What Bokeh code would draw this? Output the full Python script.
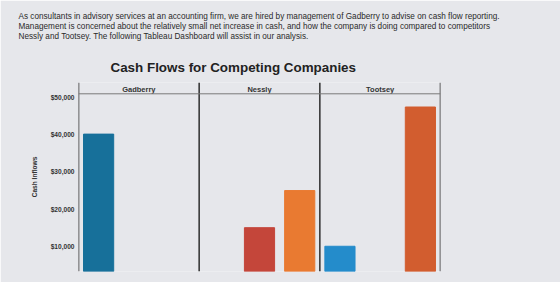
import math
from bokeh.plotting import figure
from bokeh.models import (FactorRange, Range1d, FixedTicker, NumeralTickFormatter,
                          Span, Title, ColumnDataSource)
from bokeh.core.properties import value
from bokeh.embed import file_html
from bokeh.resources import INLINE

# ---- data ----
companies = ["Gadberry", "Nessly", "Tootsey"]
slots = ["Operating", "Investing", "Financing"]
bar_company = ["Gadberry", "Nessly", "Nessly", "Tootsey", "Tootsey"]
bar_slot = ["Operating", "Investing", "Financing", "Operating", "Financing"]
bar_values = [40200, 15000, 25000, 10000, 47500]
tick_values = [10000, 20000, 30000, 40000, 50000]
intro_lines = [
    "As consultants in advisory services at an accounting firm, we are hired by management of Gadberry to advise on cash flow reporting.",
    "Management is concerned about the relatively small net increase in cash, and how the company is doing compared to competitors",
    "Nessly and Tootsey. The following Tableau Dashboard will assist in our analysis.",
]
title_text = "Cash Flows for Competing Companies"
y_title = "Cash Inflows"

# ---- styles ----
bar_colors = ["#17709a", "#c4463a", "#e97a31", "#248ccb", "#d25d2f"]
BG = "#e6e7eb"
LINE = "#3a3a3a"
FONT = "Liberation Sans"

factors = [(c, s) for c in companies for s in slots]
x_range = FactorRange(*factors, range_padding=0, factor_padding=0, group_padding=0)

p = figure(width=560, height=282, x_range=x_range, y_range=Range1d(3200, 54100),
           output_backend="svg", toolbar_location=None,
           min_border_left=78, min_border_right=120, min_border_top=82, min_border_bottom=11)
p.background_fill_color = BG
p.border_fill_color = BG
p.outline_line_color = None
p.xaxis.visible = False
p.xgrid.visible = False
p.ygrid.visible = False

p.extra_y_ranges = {"pane": Range1d(0, 189)}

src = ColumnDataSource(dict(x=list(zip(bar_company, bar_slot)), top=bar_values, color=bar_colors))
p.vbar(x="x", top="top", bottom=0, width=0.75, color="color", source=src)

ya = p.yaxis[0]
ya.ticker = FixedTicker(ticks=tick_values)
ya.formatter = NumeralTickFormatter(format="$0,0")
ya.major_tick_line_color = None
ya.minor_tick_line_color = None
ya.major_tick_out = 0
ya.major_tick_in = 0
ya.axis_line_color = None
ya.major_label_standoff = 4
ya.major_label_text_font = FONT
ya.major_label_text_font_style = "bold"
ya.major_label_text_font_size = "6.6px"
ya.major_label_text_color = "#333333"
ya.axis_label = y_title
ya.axis_label_standoff = 10
ya.axis_label_text_font = FONT
ya.axis_label_text_font_style = "bold"
ya.axis_label_text_font_size = "6.6px"
ya.axis_label_text_color = "#333333"

# panel dividers and header line
n = len(slots)
for k in range(len(companies) + 1):
    p.add_layout(Span(location=k * n, dimension="height", line_color=LINE, line_width=1.6))
p.add_layout(Span(location=177.7, dimension="width", line_color="#7a7a7a", line_width=1,
                  y_range_name="pane"))

p.text(x=companies, y=[182] * len(companies), text=companies, y_range_name="pane",
       text_align="center", text_baseline="middle", text_font=value(FONT),
       text_font_style="bold", text_font_size="7.5px", text_color="#333333")

# titles stacked above the frame (first added = nearest the frame)
p.add_layout(Title(text=title_text, align="left", offset=32, standoff=14.5,
                   text_font=FONT, text_font_size="13.4px", text_font_style="bold",
                   text_color="#222222"), "above")
p.add_layout(Title(text=" ", align="left", standoff=6.8, text_font=FONT,
                   text_font_size="1px"), "above")
for line in reversed(intro_lines):
    p.add_layout(Title(text=line, align="left", offset=-60, standoff=-1.5,
                       text_font=FONT, text_font_size="8.2px", text_font_style="normal",
                       text_color="#2a2a2a"), "above")

open("out.html", "w").write(file_html(p, INLINE))
